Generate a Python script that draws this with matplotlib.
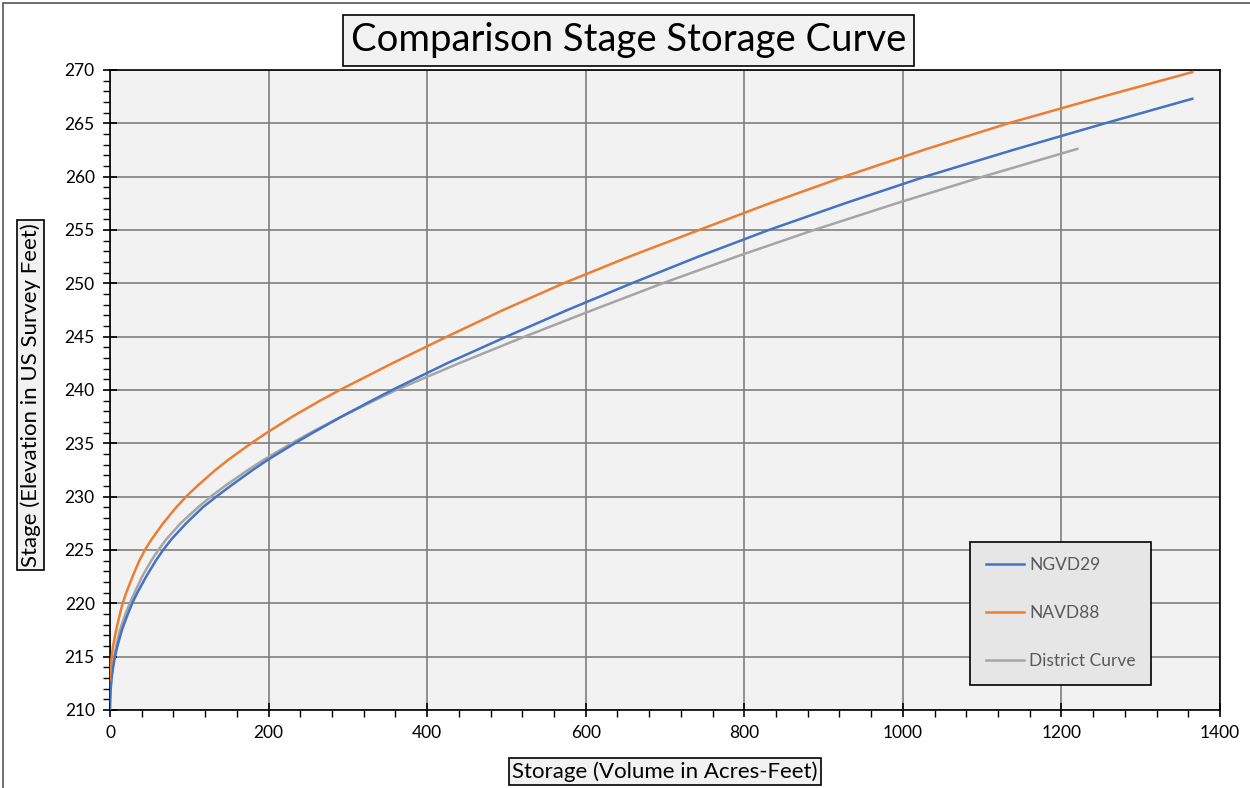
import matplotlib.pyplot as plt
import matplotlib.patches as patches
from matplotlib.ticker import MultipleLocator

plt.rcParams['font.family'] = ['Lato', 'DejaVu Sans']

# stage (ft) and storage (acre-ft)
ngvd_stage = [210, 211, 212, 213, 214, 215, 216, 217.5, 219, 220, 221, 222.5, 224, 225, 226,
              227.5, 229, 230, 231, 232.5, 233.5, 235, 236, 237.5, 239, 240, 242.5, 245,
              247.5, 250, 252.5, 255, 257.5, 260, 262.5, 265, 267.3]
ngvd_storage = [0, 0.2, 0.9, 2.1, 3.9, 6.3, 9.4, 15, 22.5, 28, 34.5, 45.6, 57.8, 67, 77.4,
                96, 117, 134, 152, 180, 200, 233, 256, 292, 330, 356, 425, 500,
                577, 658, 742, 831, 927, 1028, 1139, 1255, 1365]

navd_stage = [212.8, 213.5, 214, 215, 216, 217.5, 219, 220, 221, 222.5, 224, 225, 226, 227.5,
              229, 230, 231, 232.5, 233.5, 235, 236, 237.5, 239, 240, 242.5, 245, 247.5,
              250, 252.5, 255, 257.5, 260, 262.5, 265, 267.5, 269.8]
navd_storage = [0, 0.3, 0.9, 2.1, 3.9, 7.8, 12.5, 16, 20.5, 28.4, 37, 44, 52.5, 67,
                83.5, 96, 110, 133, 150, 178, 198, 230, 265, 290, 356, 425, 496,
                572, 655, 743, 832, 926, 1026, 1133, 1252, 1365]

district_stage = [210.2, 212, 213, 214, 215, 216, 217.5, 219, 220, 221, 222.5, 224, 225, 226,
                  227.5, 229, 230, 231, 232.5, 233.5, 235, 236, 237.5, 239, 240, 242.5, 245,
                  247.5, 250, 252.5, 255, 257.5, 260, 262.6]
district_storage = [0, 0.7, 1.6, 3.1, 5.2, 7.8, 12.5, 19.5, 25, 31, 40.5, 52, 61, 71,
                    89, 111, 127, 145, 174, 195, 229, 253, 292, 333, 361, 440, 523,
                    609, 697, 790, 888, 992, 1101, 1220]

fig = plt.figure(figsize=(12.5, 7.88), dpi=100)
ax = fig.add_axes([0.088, 0.099, 0.888, 0.8122])
ax.set_facecolor('#f2f2f2')

ax.plot(ngvd_storage, ngvd_stage, color='#4472c4', lw=1.8, label='NGVD29', zorder=4)
ax.plot(navd_storage, navd_stage, color='#ed7d31', lw=1.8, label='NAVD88', zorder=4)
ax.plot(district_storage, district_stage, color='#a5a5a5', lw=1.8, label='District Curve', zorder=3)

ax.set_xlim(0, 1400)
ax.set_ylim(210, 270)
ax.xaxis.set_major_locator(MultipleLocator(200))
ax.xaxis.set_minor_locator(MultipleLocator(40))
ax.yaxis.set_major_locator(MultipleLocator(5))
ax.yaxis.set_minor_locator(MultipleLocator(1))
ax.grid(which='major', color='#7f7f7f', lw=1.2)
ax.set_axisbelow(True)
ax.tick_params(which='major', direction='inout', length=10, width=1.2, labelsize=12.5,
               colors='black', pad=6)
ax.tick_params(which='minor', direction='out', length=5, width=1.0)
for s in ax.spines.values():
    s.set_color('black')
    s.set_linewidth(1.2)

box = dict(boxstyle='square,pad=0.15', facecolor='#f2f2f2', edgecolor='black', lw=1.2)
fig.text(0.503, 0.949, 'Comparison Stage Storage Curve', ha='center', va='center',
         fontsize=27.5, bbox=dict(boxstyle='square,pad=0.2', facecolor='#f2f2f2',
                                  edgecolor='black', lw=1.2))
fig.text(0.532, 0.021, 'Storage (Volume in Acres-Feet)', ha='center', va='center',
         fontsize=16, bbox=box)
fig.text(0.0245, 0.499, 'Stage (Elevation in US Survey Feet)', ha='center', va='center',
         rotation=90, fontsize=16, bbox=box)

leg = ax.legend(loc='lower right', bbox_to_anchor=(0.938, 0.039), fontsize=12.5,
                labelcolor='#595959', frameon=True, fancybox=False, facecolor='#e6e6e6',
                edgecolor='black', framealpha=1, labelspacing=1.85, handlelength=2.2,
                handletextpad=0.3, borderpad=0.9, borderaxespad=0)
leg.get_frame().set_linewidth(1.2)

fig.add_artist(patches.Rectangle((0.002, -0.01), 1.0, 1.006, transform=fig.transFigure,
                                 fill=False, edgecolor='#555555', lw=1.2))

fig.savefig('out.png', dpi=100)
